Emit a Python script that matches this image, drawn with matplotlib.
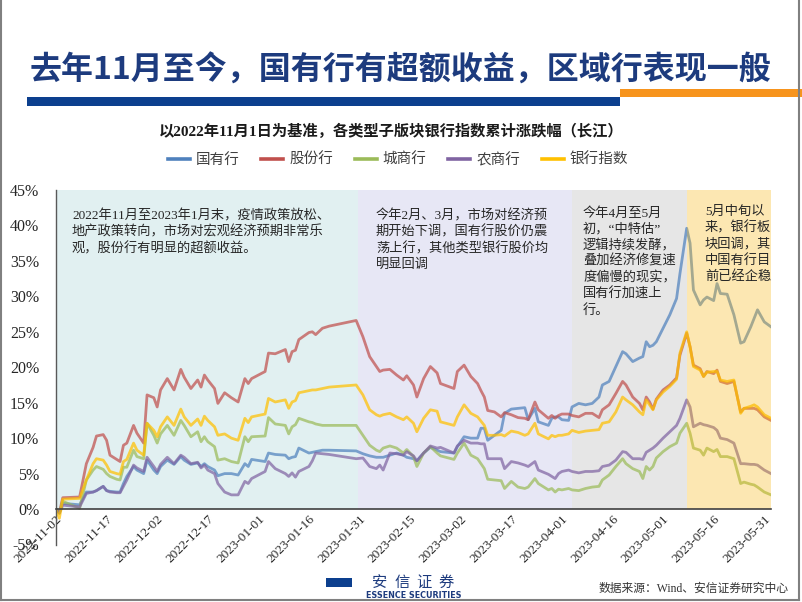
import matplotlib
matplotlib.use('Agg')
import matplotlib.pyplot as plt
from matplotlib.lines import Line2D
from matplotlib.patches import Rectangle
from matplotlib.ticker import FixedLocator, FixedFormatter
import matplotlib.dates as mdates
import pandas as pd

plt.rcParams['font.family'] = ['Liberation Serif', 'Noto Sans CJK SC', 'DejaVu Sans']

# ---------------- data ----------------
dates = ['2022-11-02','2022-11-03','2022-11-04','2022-11-09','2022-11-11','2022-11-13','2022-11-14','2022-11-16','2022-11-17','2022-11-18','2022-11-20','2022-11-21','2022-11-22','2022-11-23','2022-11-25','2022-11-26','2022-11-28','2022-11-29',
         '2022-12-01','2022-12-02','2022-12-03','2022-12-05','2022-12-07','2022-12-09','2022-12-10','2022-12-12','2022-12-14','2022-12-15','2022-12-16','2022-12-17','2022-12-19','2022-12-20','2022-12-22','2022-12-24','2022-12-26','2022-12-28','2022-12-29','2022-12-30',
         '2023-01-03','2023-01-04','2023-01-06','2023-01-09','2023-01-10','2023-01-11','2023-01-12','2023-01-13','2023-01-16','2023-01-17','2023-01-18','2023-01-20','2023-01-22','2023-01-30',
         '2023-02-01','2023-02-03','2023-02-05','2023-02-06','2023-02-07','2023-02-09','2023-02-11','2023-02-13','2023-02-14','2023-02-16','2023-02-17','2023-02-19','2023-02-21','2023-02-23','2023-02-24','2023-02-28',
         '2023-03-01','2023-03-03','2023-03-05','2023-03-07','2023-03-08','2023-03-09','2023-03-10','2023-03-12','2023-03-14','2023-03-15','2023-03-17','2023-03-19','2023-03-21','2023-03-22','2023-03-24','2023-03-25','2023-03-28','2023-03-29','2023-03-30','2023-03-31',
         '2023-04-01','2023-04-03','2023-04-04','2023-04-06','2023-04-08','2023-04-10','2023-04-12','2023-04-13','2023-04-15','2023-04-17','2023-04-19','2023-04-20','2023-04-22','2023-04-24','2023-04-25','2023-04-26','2023-04-27','2023-04-28','2023-04-29',
         '2023-05-01','2023-05-03','2023-05-05','2023-05-06','2023-05-08','2023-05-09','2023-05-10','2023-05-12','2023-05-13','2023-05-14','2023-05-16','2023-05-17','2023-05-18','2023-05-20','2023-05-22','2023-05-24','2023-05-25','2023-05-27','2023-05-28','2023-05-29','2023-05-31',
         '2023-06-02']

soe = [0, -0.5, 0.8, 0.6, 2.4, 2.4, 2.6, 3.2, 2.6, 2.5, 2.4, 2.4, 3.6, 4.6, 6.0, 5.5, 5.0, 6.9,
       5.5, 5.0, 6.0, 6.9, 6.3, 7.4, 6.9, 6.3, 6.5, 6.0, 6.4, 6.0, 5.5, 4.7, 5.0, 5.0, 4.8, 6.4, 6.0, 7.0,
       6.7, 7.9, 7.7, 7.6, 7.1, 7.3, 7.4, 8.6, 7.9, 8.0, 8.1, 8.3, 8.3, 8.2,
       7.8, 7.5, 7.3, 7.3, 7.3, 7.6, 7.9, 7.6, 7.3, 7.1, 6.8, 7.9, 8.7, 8.3, 8.1, 7.9,
       8.8, 10.2, 10.0, 10.0, 11.4, 11.4, 9.7, 10.4, 11.1, 13.5, 14.1, 14.2, 14.3, 12.6, 14.2, 12.3, 11.8, 12.8, 13.0, 13.0,
       12.6, 12.5, 14.4, 14.9, 14.7, 14.9, 15.8, 17.5, 18.0, 20.1, 22.2, 21.9, 20.8, 21.3, 21.5, 23.6, 22.9, 23.1, 23.6,
       25.5, 27.4, 29.7, 33.2, 39.6, 37.5, 30.9, 28.8, 29.5, 29.9, 29.4, 31.8, 30.4, 30.3, 27.4, 23.4, 23.6, 25.7, 26.9, 28.1, 26.4,
       25.7]

jointstock = [0, -0.5, 1.6, 1.7, 6.4, 8.7, 10.3, 10.5, 9.7, 7.6, 7.0, 6.7, 9.0, 9.3, 11.8, 10.7, 9.3, 16.1,
              15.7, 14.4, 16.8, 18.4, 16.8, 19.7, 18.6, 17.0, 18.2, 17.2, 18.9, 18.2, 17.0, 14.9, 16.4, 15.7, 15.1, 18.4, 17.7, 18.4,
              19.4, 22.0, 21.9, 22.5, 20.8, 22.2, 22.4, 23.9, 24.9, 25.0, 24.6, 25.5, 25.8, 26.6,
              24.3, 21.5, 20.1, 19.4, 19.6, 19.7, 18.9, 18.2, 18.8, 17.5, 15.8, 18.4, 20.1, 19.2, 17.7, 17.0,
              19.4, 20.3, 18.7, 17.7, 16.7, 15.8, 13.9, 13.7, 13.0, 13.6, 13.3, 12.9, 12.8, 12.6, 15.1, 14.0, 12.8, 13.2, 12.8, 13.2,
              13.4, 13.4, 13.2, 13.0, 13.5, 13.5, 12.9, 14.0, 14.7, 16.3, 18.0, 17.5, 15.8, 14.9, 14.0, 15.8, 15.1, 14.1, 15.5,
              16.8, 17.5, 18.5, 21.7, 24.8, 22.9, 20.3, 19.8, 18.7, 19.4, 19.1, 19.6, 18.0, 17.7, 18.0, 13.7, 14.2, 14.2, 14.2, 14.0, 13.0,
              12.5]

citybank = [0, -0.6, 1.1, 0.1, 4.1, 5.5, 6.0, 5.6, 5.0, 4.6, 4.2, 4.1, 5.9, 5.9, 8.3, 7.4, 7.1, 12.1,
            10.4, 9.3, 10.6, 11.8, 10.4, 12.5, 11.8, 10.2, 10.9, 9.5, 10.2, 9.5, 8.8, 6.9, 7.1, 6.7, 6.5, 10.2, 9.5, 10.2,
            10.3, 12.9, 12.0, 11.8, 10.6, 11.6, 11.9, 12.8, 12.3, 12.2, 12.0, 11.8, 11.8, 11.8,
            10.4, 9.0, 8.3, 8.1, 8.6, 8.9, 8.6, 7.9, 8.4, 7.4, 6.0, 7.9, 8.8, 7.9, 7.5, 7.0,
            7.9, 9.3, 7.6, 7.1, 6.4, 5.7, 4.2, 4.1, 4.0, 2.9, 3.9, 3.1, 2.9, 3.1, 4.3, 3.6, 2.7, 2.9, 2.4, 2.8,
            2.7, 2.9, 2.7, 2.6, 2.9, 3.1, 3.2, 4.1, 4.8, 6.0, 7.1, 6.4, 5.7, 5.3, 4.3, 6.0, 5.5, 6.0, 7.2,
            8.1, 8.8, 9.3, 10.7, 12.1, 10.7, 8.6, 8.3, 7.6, 8.6, 8.1, 8.4, 7.4, 7.4, 7.1, 3.6, 3.8, 3.5, 3.4, 3.1, 2.4,
            2.0]

ruralbank = [0, -0.6, 0.55, 0.3, 2.2, 2.4, 2.6, 3.2, 2.6, 2.4, 2.3, 2.3, 3.2, 4.1, 6.2, 5.8, 5.3, 7.3,
             6.0, 5.3, 6.3, 7.3, 6.4, 7.6, 7.3, 6.4, 6.6, 5.8, 6.2, 5.5, 5.0, 3.6, 2.4, 2.0, 2.0, 3.9, 3.6, 4.3,
             5.3, 6.7, 5.7, 5.0, 4.6, 5.1, 4.5, 5.3, 6.0, 6.8, 7.9, 7.8, 7.7, 7.1,
             7.2, 6.0, 5.7, 6.2, 5.5, 7.9, 7.8, 7.6, 8.1, 7.5, 6.8, 7.9, 8.9, 8.6, 8.7, 7.9,
             8.9, 9.7, 9.3, 9.3, 9.2, 9.2, 7.1, 7.1, 7.1, 5.7, 6.7, 6.5, 6.2, 6.0, 6.7, 5.5, 4.9, 4.6, 4.3, 5.0,
             5.3, 5.5, 5.3, 5.1, 5.3, 5.3, 5.4, 6.0, 6.2, 6.9, 8.1, 8.0, 7.1, 7.1, 7.0, 8.0, 8.3, 8.6, 9.0,
             10.0, 10.9, 11.8, 12.8, 15.4, 14.4, 11.6, 12.1, 11.9, 11.8, 11.5, 11.1, 10.0, 9.8, 9.3, 6.4, 6.4, 6.3, 6.3, 6.2, 5.5,
             5.0]

bankindex = [0, -1.3, 1.4, 1.5, 4.1, 6.4, 7.1, 6.9, 6.2, 5.3, 5.0, 4.9, 6.7, 7.0, 9.3, 8.3, 7.6, 12.1,
             11.1, 10.2, 11.6, 13.0, 11.8, 14.1, 13.0, 11.8, 12.7, 11.8, 13.1, 12.5, 11.6, 10.4, 10.6, 10.0, 9.7, 12.8, 12.2, 13.0,
             13.4, 15.6, 15.1, 15.4, 14.2, 15.1, 15.3, 16.4, 16.7, 16.8, 16.8, 17.0, 17.2, 17.5,
             16.1, 14.0, 13.3, 13.1, 13.3, 13.5, 13.0, 12.6, 13.0, 12.1, 10.9, 12.8, 14.0, 13.8, 12.3, 11.8,
             13.0, 14.7, 13.5, 13.0, 12.4, 11.8, 10.4, 10.4, 10.5, 10.3, 11.0, 10.8, 10.4, 10.6, 12.1, 10.6, 9.9, 10.4, 10.2, 10.4,
             10.4, 10.6, 11.1, 10.8, 11.0, 11.1, 11.2, 12.1, 12.3, 13.7, 15.8, 15.4, 14.7, 13.7, 13.3, 15.4, 14.7, 14.0, 15.4,
             16.5, 17.3, 18.3, 22.0, 25.0, 22.9, 20.1, 19.6, 18.7, 19.3, 19.4, 19.4, 18.2, 18.0, 18.2, 13.5, 14.2, 14.5, 14.7, 14.4, 13.3,
             12.8]

series_names = ['国有行', '股份行', '城商行', '农商行', '银行指数']
series_values = [soe, jointstock, citybank, ruralbank, bankindex]
series_colors = ['#4f81bd', '#c0504d', '#9bbb59', '#8064a2', '#ffc000']

tick_dates = ['2022-11-02', '2022-11-17', '2022-12-02', '2022-12-17', '2023-01-01', '2023-01-16',
              '2023-01-31', '2023-02-15', '2023-03-02', '2023-03-17', '2023-04-01', '2023-04-16',
              '2023-05-01', '2023-05-16', '2023-05-31']
y_ticks = [-5, 0, 5, 10, 15, 20, 25, 30, 35, 40, 45]

period_bounds = ['2022-11-02 00:00', '2023-01-30 12:00', '2023-04-04 00:00', '2023-05-08 00:00', '2023-06-02 00:00']
period_colors = ['#e1f0f1', '#e7e7f5', '#e6e6e6']

title = '去年11月至今，国有行有超额收益，区域行表现一般'
subtitle = '以2022年11月1日为基准，各类型子版块银行指数累计涨跌幅（长江）'
notes = [
    '2022年11月至2023年1月末，疫情政策放松、\n地产政策转向，市场对宏观经济预期非常乐\n观，股份行有明显的超额收益。',
    '今年2月、3月，市场对经济预\n期开始下调，国有行股价仍震\n荡上行，其他类型银行股价均\n明显回调',
    '今年4月至5月\n初，“中特估”\n逻辑持续发酵，\n叠加经济修复速\n度偏慢的现实，\n国有行加速上\n行。',
    '5月中旬以\n来，银行板\n块回调，其\n中国有行目\n前已经企稳',
]
source = '数据来源：Wind、安信证券研究中心'

# ---------------- figure ----------------
W, H = 802, 602
fig = plt.figure(figsize=(W / 100, H / 100), dpi=100)

def fx(px):
    return px / W

def fy(py):
    return 1 - py / H

ax = fig.add_axes([fx(56), fy(544.5), fx(771) - fx(56), fy(190) - fy(544.5)])

x = pd.to_datetime(dates, format='%Y-%m-%d')
pb = pd.to_datetime(period_bounds, format='%Y-%m-%d %H:%M')

for i, c in enumerate(period_colors):
    ax.axvspan(pb[i], pb[i + 1], ymin=0.1, ymax=1.0, color=c, lw=0, zorder=0)

for vals, c in zip(series_values, series_colors):
    ax.plot(x, vals, color=c, lw=2.0, alpha=0.72, zorder=2)

ax.axvspan(pb[3], pb[4], ymin=0.1, ymax=1.0, color='#f8b200', alpha=0.3, lw=0, zorder=3)

ax.set_xlim(pd.Timestamp(dates[0]), pd.Timestamp(dates[-1]))
ax.set_ylim(-5, 45)

ax.set_yticks(y_ticks)
ax.set_yticklabels([f'{v}%' for v in y_ticks], fontsize=11.5, color='#262626')
td = mdates.date2num(pd.to_datetime(tick_dates, format='%Y-%m-%d'))
ax.xaxis.set_major_locator(FixedLocator(td))
ax.xaxis.set_major_formatter(FixedFormatter(tick_dates))
ax.tick_params(axis='both', length=0)
ax.tick_params(axis='y', pad=12)
ax.tick_params(axis='x', pad=3, labelsize=9.5, labelcolor='#262626', labelrotation=45)

for s in ['top', 'right']:
    ax.spines[s].set_visible(False)
ax.spines['bottom'].set_position(('data', 0))
ax.spines['bottom'].set_color('#404040')
ax.spines['bottom'].set_linewidth(1.2)
ax.spines['bottom'].set_zorder(5)
ax.spines['left'].set_color('#595959')
ax.spines['left'].set_linewidth(1.0)
ax.set_facecolor('none')

note_pos = [(72, 209), (376, 209), (583, 207), (705, 206)]
for (px, py), t in zip(note_pos, notes):
    fig.text(fx(px), fy(py), t, fontsize=9.5, color='#262626', ha='left', va='top',
             linespacing=1.32)

fig.text(fx(400), fy(71), title, fontsize=23, fontweight='bold', color='#1d3b7e',
         ha='center', va='center', family=['Noto Sans CJK SC', 'DejaVu Sans'])
fig.patches.append(Rectangle((fx(27), fy(106)), fx(620) - fx(27), 9 / H,
                             transform=fig.transFigure, color='#0c3f8e', lw=0))
fig.patches.append(Rectangle((fx(620), fy(97)), fx(802) - fx(620), 8 / H,
                             transform=fig.transFigure, color='#f7941d', lw=0))

fig.text(fx(391), fy(131), subtitle, fontsize=11, fontweight='bold', color='#1a1a1a',
         ha='center', va='center', family=['Liberation Serif', 'Noto Sans CJK SC'])

handles = [Line2D([0], [0], color=c, lw=2.6) for c in series_colors]
fig.legend(handles, series_names, loc='center', bbox_to_anchor=(fx(398), fy(160)),
           ncol=5, frameon=False, fontsize=10.5, handlelength=1.5, handletextpad=0.4,
           columnspacing=1.5, labelcolor='#404040')

fig.patches.append(Rectangle((fx(326), fy(587)), 26 / W, 9 / H,
                             transform=fig.transFigure, color='#0c3f8e', lw=0))
for i, ch in enumerate('安信证券'):
    fig.text(fx(380 + i * 22), fy(582), ch, fontsize=11, color='#1d3b7e', ha='center',
             va='center', family=['Noto Sans CJK SC'])
fig.text(fx(414), fy(595), 'ESSENCE SECURITIES', fontsize=5.8, fontweight='bold',
         color='#1d3b7e', ha='center', va='center', family=['DejaVu Sans'])
fig.text(fx(789), fy(589), source, fontsize=8.5, color='#333333', ha='right', va='center')

for (x0, y0, x1, y1) in [(1, 0, 1, 600), (799, 0, 799, 600), (1, 600, 799, 600)]:
    fig.add_artist(Line2D([fx(x0), fx(x1)], [fy(y0), fy(y1)], color='#808080', lw=1.5,
                          transform=fig.transFigure))

# align the rotated date labels so their ends sit at the ticks
fig.canvas.draw()
for lab in ax.get_xticklabels():
    lab.set_horizontalalignment('right')
    lab.set_rotation_mode('anchor')

fig.savefig('out.png', dpi=100)
